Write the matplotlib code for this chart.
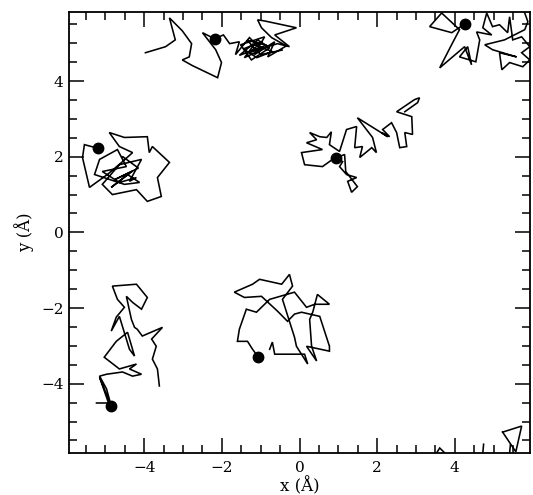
import matplotlib
matplotlib.use("Agg")
import matplotlib.pyplot as plt
from matplotlib.ticker import MultipleLocator

# Particle trajectories in the x-y plane (Angstrom); first point is the marked site
traj_a_x = [-2.19, -2.50, -2.16, -2.01, -2.11, -2.76, -3.02, -2.84, -2.78, -3.02, -3.35, -3.20, -3.45, -3.97]
traj_a_y = [5.12, 5.28, 4.83, 4.49, 4.09, 4.41, 4.56, 4.64, 4.99, 5.33, 5.67, 5.09, 4.91, 4.75]
traj_a2_x = [-2.19, -1.96, -1.80, -1.55, -1.65, -1.29, -0.98, -1.42, -1.08, -0.77, -1.24, -1.52, -0.90, -1.16,
             -0.64, -0.82, -0.34, -0.72, -0.98, -1.08, -0.90, -0.08, -0.64, -0.26, -0.57, -1.30, -0.95,
             -1.45, -1.10, -0.70, -1.20, -1.55, -0.85, -1.35, -1.00, -0.45]
traj_a2_y = [5.12, 5.22, 4.99, 5.04, 4.70, 5.15, 4.83, 4.62, 5.09, 4.88, 4.56, 4.96, 5.17, 4.70,
             5.04, 4.64, 4.93, 5.15, 5.41, 5.62, 5.59, 5.41, 5.22, 4.91, 4.99, 4.75, 5.05,
             4.85, 4.62, 4.78, 4.98, 4.68, 4.95, 5.08, 4.70, 4.82]

traj_b_x = [4.25, 3.92, 3.35, 3.66, 4.12, 3.94, 3.61, 4.25, 4.43, 4.33, 4.12, 4.54, 4.64, 4.56, 4.95, 4.72,
            4.82, 4.97, 5.15, 5.36, 5.41, 5.49, 5.72, 5.93, 5.72, 5.93, 5.75, 5.41, 5.21, 5.15, 5.59, 4.97,
            4.77, 5.28, 5.80, 5.88, 5.80]
traj_b_y = [5.51, 5.28, 5.44, 5.80, 5.36, 5.01, 4.35, 4.91, 4.43, 4.91, 4.64, 4.51, 5.09, 5.30, 5.22, 5.41,
            5.80, 5.44, 5.49, 5.28, 5.70, 5.09, 5.17, 4.91, 4.75, 4.56, 4.38, 4.49, 4.30, 4.75, 4.64, 4.83,
            4.96, 5.09, 5.36, 5.57, 5.80]
# periodic images of trajectory b re-entering through the lower boundary
wrap_b1_x = [5.23, 5.72, 5.57, 5.23]
wrap_b1_y = [-5.28, -5.12, -5.80, -5.28]
wrap_b2_x = [3.53, 3.61, 3.74]
wrap_b2_y = [-5.83, -5.70, -5.83]
wrap_b3_x = [4.72, 4.74]
wrap_b3_y = [-5.83, -5.60]
wrap_b4_x = [5.41, 5.43]
wrap_b4_y = [-5.83, -5.62]

traj_c_x = [-5.18, -5.54, -5.59, -5.41, -4.95, -4.56, -4.30, -4.64, -4.90, -4.51, -3.92, -3.87, -3.79, -3.35,
            -3.66, -3.56, -3.92, -4.20, -4.82, -5.08, -4.64, -4.07, -4.38, -4.20, -4.64, -5.08, -4.46, -4.69,
            -5.15, -5.28, -4.51, -4.12, -4.43, -4.85, -4.30, -4.75, -4.15, -4.55]
traj_c_y = [2.22, 2.32, 1.98, 1.19, 1.53, 1.87, 2.11, 2.27, 2.64, 2.51, 2.53, 2.11, 2.27, 1.85,
            1.45, 0.95, 0.82, 1.13, 1.00, 1.27, 1.79, 1.93, 1.35, 1.45, 1.32, 1.61, 1.74, 2.19,
            1.93, 1.53, 1.27, 1.32, 1.53, 1.19, 1.62, 1.40, 1.70, 2.00]

traj_d_x = [0.95, 1.11, 1.03, 1.21, 1.47, 1.24, 1.34, 1.49, 1.19, 1.16, 0.85, 0.59, 0.13, 0.05, 0.59, 0.18,
            0.44, 0.26, 0.52, 0.70, 0.82, 0.77, 1.03, 1.21, 1.47, 1.42, 1.62, 1.55, 1.86, 1.98, 1.88, 1.49,
            2.27, 2.11, 2.32, 2.14, 2.37, 2.50, 2.58, 2.76, 2.71, 2.91, 2.89, 2.50, 2.96, 3.09, 3.04, 2.71]
traj_d_y = [1.98, 1.87, 1.74, 1.53, 1.45, 1.35, 1.06, 1.21, 1.61, 2.06, 1.93, 1.74, 1.79, 2.11, 2.19, 2.37,
            2.45, 2.64, 2.53, 2.51, 2.66, 2.32, 2.14, 2.72, 2.80, 2.24, 2.27, 1.98, 2.24, 2.11, 2.51, 3.03,
            2.53, 2.64, 2.53, 2.72, 2.90, 2.64, 2.24, 2.27, 2.64, 2.59, 3.06, 3.19, 3.51, 3.56, 3.43, 3.19]

traj_e_x = [-5.23, -4.92, -5.15, -4.85, -4.97, -5.15, -4.97, -4.56, -4.30, -4.07, -4.38, -4.20, -4.64, -5.03,
            -4.72, -4.43, -4.25, -4.38, -4.64, -4.85, -4.72, -4.51, -4.69, -4.82, -4.20, -3.92, -4.07, -4.30,
            -4.46, -4.33, -4.25, -4.18, -4.05, -3.53, -3.81, -3.69, -3.79, -3.66, -3.61]
traj_e_y = [-4.51, -4.51, -3.83, -4.59, -4.14, -3.80, -3.75, -3.69, -3.80, -3.75, -3.61, -3.48, -3.61, -3.30,
            -2.88, -2.64, -3.27, -3.09, -2.22, -2.61, -2.24, -1.98, -1.77, -1.42, -1.37, -1.72, -2.03, -1.85,
            -1.69, -2.30, -2.51, -2.56, -2.74, -2.51, -2.82, -3.01, -3.35, -3.61, -4.06]

traj_f_x = [-1.06, -1.21, -1.34, -1.60, -1.55, -1.37, -1.11, -0.77, -0.13, 0.18, 0.39, 0.77, 0.46, 0.34,
            0.26, 0.31, 0.44, 0.18, 0.77, 0.77, 0.52, 0.05, -0.13, -0.31, -0.57, -0.98, -1.42, -1.68,
            -1.21, -1.03, -0.46, -0.26, -0.18, -0.44, -0.13, -0.08, 0.21, 0.13, -0.64, -0.70, -0.77]
traj_f_y = [-3.30, -3.09, -2.88, -2.88, -2.56, -2.03, -2.11, -1.77, -1.58, -1.98, -1.90, -1.90, -1.64, -2.11,
            -2.30, -3.01, -3.40, -3.01, -3.14, -3.01, -2.22, -2.11, -2.16, -2.35, -2.08, -1.69, -1.72, -1.58,
            -1.37, -1.24, -1.37, -1.11, -1.42, -1.77, -2.77, -3.01, -3.48, -3.22, -3.22, -2.90, -3.09]

lines = [
    (traj_a_x, traj_a_y), (traj_a2_x, traj_a2_y),
    (traj_b_x, traj_b_y),
    (wrap_b1_x, wrap_b1_y), (wrap_b2_x, wrap_b2_y), (wrap_b3_x, wrap_b3_y), (wrap_b4_x, wrap_b4_y),
    (traj_c_x, traj_c_y), (traj_d_x, traj_d_y), (traj_e_x, traj_e_y), (traj_f_x, traj_f_y),
]
# marked sites (filled circles)
site_x = [traj_a_x[0], traj_b_x[0], traj_c_x[0], traj_d_x[0], traj_e_x[3], traj_f_x[0]]
site_y = [traj_a_y[0], traj_b_y[0], traj_c_y[0], traj_d_y[0], traj_e_y[3], traj_f_y[0]]

plt.rcParams['font.family'] = ['DejaVu Serif']

fig = plt.figure(figsize=(5.33, 4.95), dpi=100)
ax = fig.add_axes([0.130, 0.085, 0.864, 0.891])

for xs, ys in lines:
    ax.plot(xs, ys, color='black', lw=1.15, solid_joinstyle='miter')
ax.plot(site_x, site_y, 'o', color='black', ms=7.5, zorder=3)

ax.set_xlim(-5.93, 5.93)
ax.set_ylim(-5.83, 5.83)
ax.xaxis.set_major_locator(MultipleLocator(2))
ax.xaxis.set_minor_locator(MultipleLocator(0.5))
ax.yaxis.set_major_locator(MultipleLocator(2))
ax.yaxis.set_minor_locator(MultipleLocator(0.5))
ax.tick_params(which='both', direction='in', top=True, right=True, width=1.1, labelsize=11)
ax.tick_params(axis='x', pad=6)
ax.tick_params(axis='y', pad=4)
ax.tick_params(which='major', length=11)
ax.tick_params(which='minor', length=5.5)
for s in ax.spines.values():
    s.set_linewidth(1.3)

ax.set_xlabel('x (Å)', fontsize=12, labelpad=1)
ax.set_ylabel('y (Å)', fontsize=12, labelpad=5)

fig.savefig('out.png', dpi=100)
